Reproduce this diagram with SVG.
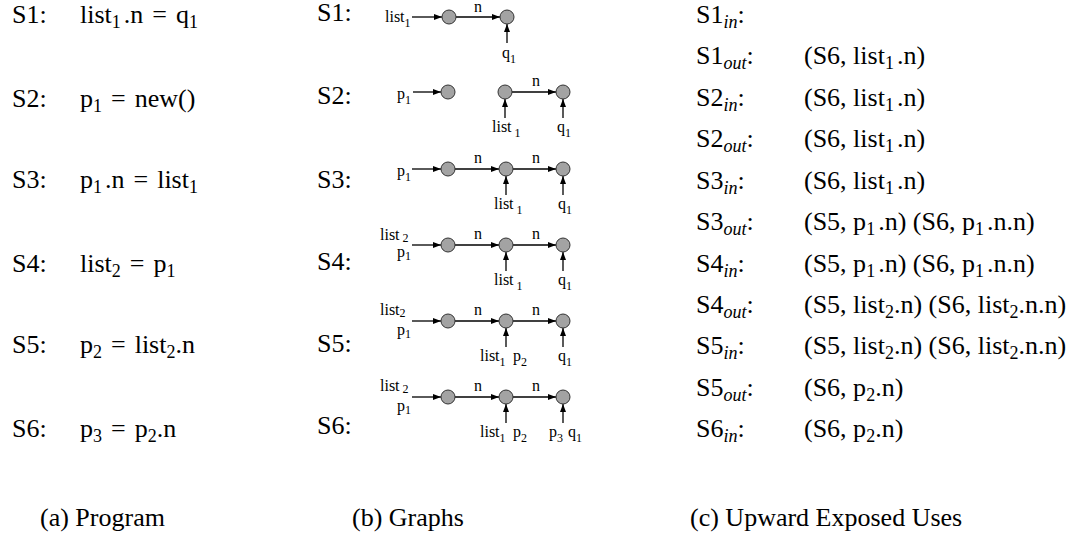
<svg xmlns="http://www.w3.org/2000/svg" width="1071" height="543" viewBox="0 0 1071 543">
<defs>
<style>
.t{font-family:"Liberation Serif","Times New Roman",serif;font-size:26px;fill:#000}
.s{font-size:18px}
.it{font-style:italic;font-size:18px}
.g{font-family:"Liberation Serif","Times New Roman",serif;font-size:16px;fill:#000}
.gs{font-size:12px}
.node{fill:#a3a3a3;stroke:#333;stroke-width:1}
.e{stroke:#000;stroke-width:1.3;fill:none;marker-end:url(#ah)}
.m{text-anchor:middle}
</style>
<marker id="ah" markerUnits="userSpaceOnUse" markerWidth="8" markerHeight="6" refX="8" refY="3" orient="auto">
<path d="M0,0 L8,3 L0,6 z" fill="#000"/>
</marker>
</defs>
<rect width="1071" height="543" fill="#fff"/>

<!-- (a) Program -->
<g id="program">
<text class="t" x="12" y="23">S1:</text>
<text class="t" x="80" y="23">list<tspan class="s" dy="5">1</tspan><tspan dx="3" dy="-5">.n</tspan><tspan dx="9">=</tspan><tspan dx="9">q</tspan><tspan class="s" dy="5">1</tspan></text>
<text class="t" x="12" y="107">S2:</text>
<text class="t" x="80" y="107">p<tspan class="s" dy="5">1</tspan><tspan dx="9" dy="-5">=</tspan><tspan dx="9">new()</tspan></text>
<text class="t" x="12" y="188">S3:</text>
<text class="t" x="80" y="188">p<tspan class="s" dy="5">1</tspan><tspan dx="3" dy="-5">.n</tspan><tspan dx="9">=</tspan><tspan dx="9">list</tspan><tspan class="s" dy="5">1</tspan></text>
<text class="t" x="12" y="272">S4:</text>
<text class="t" x="80" y="272">list<tspan class="s" dy="5">2</tspan><tspan dx="9" dy="-5">=</tspan><tspan dx="9">p</tspan><tspan class="s" dy="5">1</tspan></text>
<text class="t" x="12" y="353">S5:</text>
<text class="t" x="80" y="353">p<tspan class="s" dy="5">2</tspan><tspan dx="9" dy="-5">=</tspan><tspan dx="9">list</tspan><tspan class="s" dy="5">2</tspan><tspan dy="-5">.n</tspan></text>
<text class="t" x="12" y="437">S6:</text>
<text class="t" x="80" y="437">p<tspan class="s" dy="5">3</tspan><tspan dx="9" dy="-5">=</tspan><tspan dx="9">p</tspan><tspan class="s" dy="5">2</tspan><tspan dy="-5">.n</tspan></text>
</g>

<!-- (b) Graphs: labels -->
<g id="graph-labels">
<text class="t" x="317" y="21">S1:</text>
<text class="t" x="317" y="104">S2:</text>
<text class="t" x="317" y="188">S3:</text>
<text class="t" x="317" y="270">S4:</text>
<text class="t" x="317" y="352">S5:</text>
<text class="t" x="317" y="434">S6:</text>
</g>

<!-- Connectors -->
<g id="connectors">
<path class="e" d="M412,17 H442"/>
<path class="e" d="M456,17 H500"/>
<path class="e" d="M507,43 V24"/>

<path class="e" d="M413,92 H441"/>
<path class="e" d="M512,92 H556"/>
<path class="e" d="M505,118 V99"/>
<path class="e" d="M563,118 V99"/>

<path class="e" d="M412,169 H441"/>
<path class="e" d="M455,169 H499"/>
<path class="e" d="M513,169 H556"/>
<path class="e" d="M506,195 V176"/>
<path class="e" d="M563,195 V176"/>

<path class="e" d="M412,245 H441"/>
<path class="e" d="M455,245 H499"/>
<path class="e" d="M513,245 H556"/>
<path class="e" d="M506,271 V252"/>
<path class="e" d="M563,271 V252"/>

<path class="e" d="M412,321 H441"/>
<path class="e" d="M455,321 H499"/>
<path class="e" d="M513,321 H556"/>
<path class="e" d="M506,347 V328"/>
<path class="e" d="M563,347 V328"/>

<path class="e" d="M412,397 H441"/>
<path class="e" d="M455,397 H499"/>
<path class="e" d="M513,397 H556"/>
<path class="e" d="M506,423 V404"/>
<path class="e" d="M563,423 V404"/>
</g>

<!-- edge labels -->
<g id="edge-labels">
<text class="g m" x="478" y="12">n</text>
<text class="g m" x="536" y="86">n</text>
<text class="g m" x="478" y="163">n</text>
<text class="g m" x="536" y="163">n</text>
<text class="g m" x="478" y="239">n</text>
<text class="g m" x="536" y="239">n</text>
<text class="g m" x="478" y="315">n</text>
<text class="g m" x="536" y="315">n</text>
<text class="g m" x="478" y="391">n</text>
<text class="g m" x="536" y="391">n</text>
</g>

<!-- Graph S1 -->
<g id="g1">
<g id="g1-n1"><circle class="node" cx="449" cy="17" r="7"/></g>
<g id="g1-n2"><circle class="node" cx="507" cy="17" r="7"/></g>
<text class="g" x="385" y="22">list<tspan class="gs" dy="5">1</tspan></text>
<text class="g" x="502" y="58">q<tspan class="gs" dy="5">1</tspan></text>
</g>

<!-- Graph S2 -->
<g id="g2">
<g id="g2-n1"><circle class="node" cx="448" cy="92" r="7"/></g>
<g id="g2-n2"><circle class="node" cx="505" cy="92" r="7"/></g>
<g id="g2-n3"><circle class="node" cx="563" cy="92" r="7"/></g>
<text class="g" x="397" y="99">p<tspan class="gs" dy="5">1</tspan></text>
<text class="g" x="492" y="132">list<tspan class="gs" dx="3" dy="5">1</tspan></text>
<text class="g" x="557" y="132">q<tspan class="gs" dy="5">1</tspan></text>
</g>

<!-- Graph S3 -->
<g id="g3">
<g id="g3-n1"><circle class="node" cx="448" cy="169" r="7"/></g>
<g id="g3-n2"><circle class="node" cx="506" cy="169" r="7"/></g>
<g id="g3-n3"><circle class="node" cx="563" cy="169" r="7"/></g>
<text class="g" x="397" y="176">p<tspan class="gs" dy="5">1</tspan></text>
<text class="g" x="494" y="209">list<tspan class="gs" dx="3" dy="5">1</tspan></text>
<text class="g" x="558" y="209">q<tspan class="gs" dy="5">1</tspan></text>
</g>

<!-- Graph S4 -->
<g id="g4">
<g id="g4-n1"><circle class="node" cx="448" cy="245" r="7"/></g>
<g id="g4-n2"><circle class="node" cx="506" cy="245" r="7"/></g>
<g id="g4-n3"><circle class="node" cx="563" cy="245" r="7"/></g>
<text class="g" x="380" y="240">list<tspan class="gs" dx="3" dy="2">2</tspan></text>
<text class="g" x="397" y="257">p<tspan class="gs" dy="3">1</tspan></text>
<text class="g" x="494" y="285">list<tspan class="gs" dx="3" dy="5">1</tspan></text>
<text class="g" x="558" y="285">q<tspan class="gs" dy="5">1</tspan></text>
</g>

<!-- Graph S5 -->
<g id="g5">
<g id="g5-n1"><circle class="node" cx="448" cy="321" r="7"/></g>
<g id="g5-n2"><circle class="node" cx="506" cy="321" r="7"/></g>
<g id="g5-n3"><circle class="node" cx="563" cy="321" r="7"/></g>
<text class="g" x="380" y="315">list<tspan class="gs" dy="2">2</tspan></text>
<text class="g" x="397" y="335">p<tspan class="gs" dy="3">1</tspan></text>
<text class="g" x="480" y="361">list<tspan class="gs" dy="5">1</tspan></text>
<text class="g" x="513" y="361">p<tspan class="gs" dy="5">2</tspan></text>
<text class="g" x="558" y="361">q<tspan class="gs" dy="5">1</tspan></text>
</g>

<!-- Graph S6 -->
<g id="g6">
<g id="g6-n1"><circle class="node" cx="448" cy="397" r="7"/></g>
<g id="g6-n2"><circle class="node" cx="506" cy="397" r="7"/></g>
<g id="g6-n3"><circle class="node" cx="563" cy="397" r="7"/></g>
<text class="g" x="380" y="391">list<tspan class="gs" dx="3" dy="2">2</tspan></text>
<text class="g" x="397" y="411">p<tspan class="gs" dy="3">1</tspan></text>
<text class="g" x="480" y="437">list<tspan class="gs" dy="5">1</tspan></text>
<text class="g" x="513" y="437">p<tspan class="gs" dy="5">2</tspan></text>
<text class="g" x="549" y="437">p<tspan class="gs" dy="5">3</tspan></text>
<text class="g" x="568" y="437">q<tspan class="gs" dy="5">1</tspan></text>
</g>

<!-- (c) Upward exposed uses -->
<g id="uses">
<text class="t" x="696" y="23">S1<tspan class="it" dy="5">in</tspan><tspan dy="-5">:</tspan></text>

<text class="t" x="696" y="64">S1<tspan class="it" dy="5">out</tspan><tspan dy="-5">:</tspan></text>
<text class="t" x="804" y="64">(S6, list<tspan class="s" dy="5">1</tspan><tspan dx="3" dy="-5">.n)</tspan></text>

<text class="t" x="696" y="106">S2<tspan class="it" dy="5">in</tspan><tspan dy="-5">:</tspan></text>
<text class="t" x="804" y="106">(S6, list<tspan class="s" dy="5">1</tspan><tspan dx="3" dy="-5">.n)</tspan></text>

<text class="t" x="696" y="147">S2<tspan class="it" dy="5">out</tspan><tspan dy="-5">:</tspan></text>
<text class="t" x="804" y="147">(S6, list<tspan class="s" dy="5">1</tspan><tspan dx="3" dy="-5">.n)</tspan></text>

<text class="t" x="696" y="189">S3<tspan class="it" dy="5">in</tspan><tspan dy="-5">:</tspan></text>
<text class="t" x="804" y="189">(S6, list<tspan class="s" dy="5">1</tspan><tspan dx="3" dy="-5">.n)</tspan></text>

<text class="t" x="696" y="230">S3<tspan class="it" dy="5">out</tspan><tspan dy="-5">:</tspan></text>
<text class="t" x="804" y="230">(S5, p<tspan class="s" dy="5">1</tspan><tspan dx="3" dy="-5">.n) (S6, p</tspan><tspan class="s" dy="5">1</tspan><tspan dx="3" dy="-5">.n.n)</tspan></text>

<text class="t" x="696" y="272">S4<tspan class="it" dy="5">in</tspan><tspan dy="-5">:</tspan></text>
<text class="t" x="804" y="272">(S5, p<tspan class="s" dy="5">1</tspan><tspan dx="3" dy="-5">.n) (S6, p</tspan><tspan class="s" dy="5">1</tspan><tspan dx="3" dy="-5">.n.n)</tspan></text>

<text class="t" x="696" y="313">S4<tspan class="it" dy="5">out</tspan><tspan dy="-5">:</tspan></text>
<text class="t" x="804" y="313">(S5, list<tspan class="s" dy="5">2</tspan><tspan dy="-5">.n) (S6, list</tspan><tspan class="s" dy="5">2</tspan><tspan dy="-5">.n.n)</tspan></text>

<text class="t" x="696" y="354">S5<tspan class="it" dy="5">in</tspan><tspan dy="-5">:</tspan></text>
<text class="t" x="804" y="354">(S5, list<tspan class="s" dy="5">2</tspan><tspan dy="-5">.n) (S6, list</tspan><tspan class="s" dy="5">2</tspan><tspan dy="-5">.n.n)</tspan></text>

<text class="t" x="696" y="396">S5<tspan class="it" dy="5">out</tspan><tspan dy="-5">:</tspan></text>
<text class="t" x="804" y="396">(S6, p<tspan class="s" dy="5">2</tspan><tspan dy="-5">.n)</tspan></text>

<text class="t" x="696" y="437">S6<tspan class="it" dy="5">in</tspan><tspan dy="-5">:</tspan></text>
<text class="t" x="804" y="437">(S6, p<tspan class="s" dy="5">2</tspan><tspan dy="-5">.n)</tspan></text>
</g>

<!-- Captions -->
<g id="captions">
<text class="t" x="40" y="526">(a) Program</text>
<text class="t" x="352" y="526">(b) Graphs</text>
<text class="t" x="690" y="526">(c) Upward Exposed Uses</text>
</g>
</svg>
